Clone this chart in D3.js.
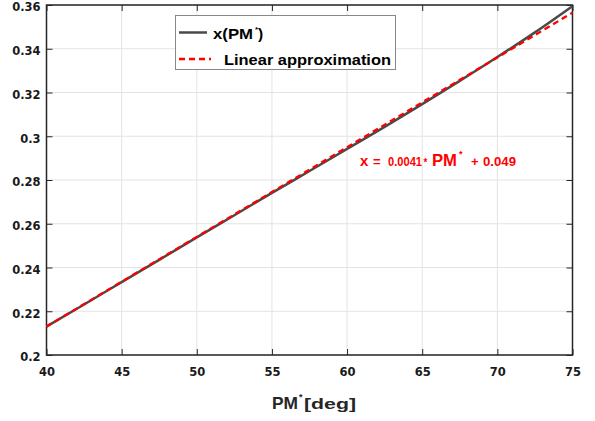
<!DOCTYPE html>
<html><head><meta charset="utf-8">
<script src="https://cdn.jsdelivr.net/npm/d3@7"></script>
<style>body{margin:0;background:#fff}svg{display:block}</style>
</head><body>
<script>
const pmValues = [40, 42.5, 45, 47.5, 50, 52.5, 55, 57.5, 60, 62.5, 65, 67.5, 70, 72.5, 75];
const xValues = [0.213, 0.2231, 0.2333, 0.2435, 0.2538, 0.2639, 0.2741, 0.2841, 0.2942, 0.3043, 0.3147, 0.3253, 0.3362, 0.3475, 0.3595];
const slope = 0.0041, intercept = 0.049;
const xTicks = [40, 45, 50, 55, 60, 65, 70, 75];
const yTicks = [0.2, 0.22, 0.24, 0.26, 0.28, 0.3, 0.32, 0.34, 0.36];
const legendLabels = ["x(PM", "Linear approximation"];

const W = 595, H = 421;
const m = {l: 46.5, r: 572.5, t: 5, b: 355};
const svg = d3.select("body").append("svg").attr("width", W).attr("height", H);
const x = d3.scaleLinear().domain([40, 75]).range([m.l, m.r]);
const y = d3.scaleLinear().domain([0.2, 0.36]).range([m.b, m.t]);
const tc = "#262626";
const font = "'Liberation Sans', Arial, sans-serif";
const SG = "spacingAndGlyphs";

// grid
svg.append("g").selectAll("line").data(xTicks).join("line")
  .attr("x1", d => x(d)).attr("x2", d => x(d)).attr("y1", m.t).attr("y2", m.b)
  .attr("stroke", "#e3e3e3").attr("stroke-width", 1);
svg.append("g").selectAll("line").data(yTicks).join("line")
  .attr("y1", d => y(d)).attr("y2", d => y(d)).attr("x1", m.l).attr("x2", m.r)
  .attr("stroke", "#e3e3e3").attr("stroke-width", 1);

// axes
const ax = (g) => { g.select(".domain").remove(); g.selectAll("line").attr("stroke", tc); g.selectAll("text").attr("fill", "#1a1a1a").attr("font-family", "'DejaVu Sans', sans-serif").attr("font-weight", "bold").attr("font-size", 11.5); };
svg.append("g").attr("transform", `translate(0,${m.b})`)
  .call(d3.axisBottom(x).tickValues(xTicks).tickSize(-6).tickPadding(13).tickFormat(d3.format("d"))).call(ax);
svg.append("g").attr("transform", `translate(0,${m.t})`)
  .call(d3.axisTop(x).tickValues(xTicks).tickSize(-6).tickFormat("")).call(ax);
const yAx = svg.append("g").attr("transform", `translate(${m.l},0)`)
  .call(d3.axisLeft(y).tickValues(yTicks).tickSize(-6).tickPadding(6).tickFormat(d => d3.format("")(+d.toFixed(2)))).call(ax);
yAx.selectAll("text").attr("dy", "0.5em");
svg.append("g").attr("transform", `translate(${m.r},0)`)
  .call(d3.axisRight(y).tickValues(yTicks).tickSize(-6).tickFormat("")).call(ax);
svg.append("rect").attr("x", m.l).attr("y", m.t).attr("width", m.r - m.l).attr("height", m.b - m.t)
  .attr("fill", "none").attr("stroke", tc).attr("stroke-width", 1.5);

// lines
const line = d3.line().x(d => x(d[0])).y(d => y(d[1]));
svg.append("path").datum(pmValues.map((p, i) => [p, xValues[i]]))
  .attr("d", line.curve(d3.curveMonotoneX)).attr("fill", "none").attr("stroke", "#4a4a4a").attr("stroke-width", 2.5);
svg.append("path").datum(x.domain().map(p => [p, slope * p + intercept]))
  .attr("d", d3.line().x(d => x(d[0])).y(d => y(d[1]))).attr("fill", "none")
  .attr("stroke", "#ff0000").attr("stroke-width", 2.3).attr("stroke-dasharray", "6,4");

// legend
const lg = svg.append("g");
lg.append("rect").attr("x", 175.5).attr("y", 15.5).attr("width", 220).attr("height", 54)
  .attr("fill", "#fff").attr("stroke", "#888").attr("stroke-width", 1);
lg.append("line").attr("x1", 179).attr("x2", 207).attr("y1", 32.5).attr("y2", 32.5).attr("stroke", "#4a4a4a").attr("stroke-width", 2.5);
lg.append("line").attr("x1", 179).attr("x2", 211).attr("y1", 59).attr("y2", 59).attr("stroke", "#ff0000").attr("stroke-width", 2.3).attr("stroke-dasharray", "6,4");
const t1 = lg.append("text").attr("y", 38.5).attr("font-family", font).attr("font-weight", "bold").attr("font-size", 15.5).attr("fill", "#000");
t1.append("tspan").attr("x", 213).attr("textLength", 40).attr("lengthAdjust", SG).text(legendLabels[0]);
t1.append("tspan").attr("x", 255).attr("dy", -7).attr("font-size", 8).text("*");
t1.append("tspan").attr("x", 258).attr("dy", 7).text(")");
lg.append("text").attr("x", 224).attr("y", 64.5).attr("font-family", font).attr("font-weight", "bold").attr("font-size", 15.5)
  .attr("textLength", 167).attr("lengthAdjust", SG).attr("fill", "#000").text(legendLabels[1]);

// equation
const eq = svg.append("text").attr("y", 166).attr("fill", "#ff0000").attr("font-family", font).attr("font-weight", "bold");
eq.append("tspan").attr("x", 360).attr("font-size", 15).text("x");
eq.append("tspan").attr("x", 373).attr("font-size", 13).text("=");
eq.append("tspan").attr("x", 388).attr("font-size", 12.5).attr("textLength", 34).attr("lengthAdjust", SG).text("0.0041");
eq.append("tspan").attr("x", 423.5).attr("font-size", 10).text("*");
eq.append("tspan").attr("x", 432).attr("font-size", 16.5).attr("textLength", 25).attr("lengthAdjust", SG).text("PM");
eq.append("tspan").attr("x", 459).attr("font-size", 9).attr("dy", -9).text("*");
eq.append("tspan").attr("x", 471).attr("font-size", 13).attr("dy", 9).text("+");
eq.append("tspan").attr("x", 483).attr("font-size", 12.5).attr("textLength", 33).attr("lengthAdjust", SG).text("0.049");

// x label
const xl = svg.append("text").attr("y", 408.5).attr("fill", tc).attr("font-family", font).attr("font-weight", "bold");
xl.append("tspan").attr("x", 272).attr("font-size", 17).attr("textLength", 26).attr("lengthAdjust", SG).text("PM");
xl.append("tspan").attr("x", 299).attr("font-size", 9).attr("dy", -9).text("*");
xl.append("tspan").attr("x", 304).attr("font-size", 15).attr("dy", 9).attr("textLength", 52).attr("lengthAdjust", SG).text("[deg]");
</script>
</body></html>
